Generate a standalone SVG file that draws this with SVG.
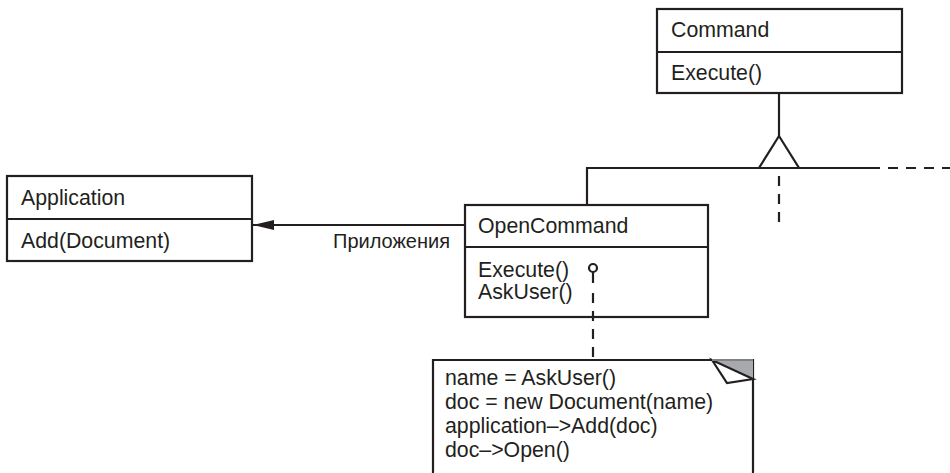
<svg xmlns="http://www.w3.org/2000/svg" width="950" height="473" viewBox="0 0 950 473">
<style>
.box{fill:#fff;stroke:#231f20;stroke-width:2.2}
.ln{fill:none;stroke:#231f20;stroke-width:2.2}
.dash{fill:none;stroke:#231f20;stroke-width:2.2;stroke-dasharray:10 8}
text{font-family:"Liberation Sans",Arial,sans-serif;font-size:21.3px;fill:#231f20}
.lbl{font-size:20px}
</style>
<defs>
<marker id="arr" markerWidth="22" markerHeight="12" refX="21" refY="6" orient="auto" markerUnits="userSpaceOnUse">
<path d="M0,1 L21,6 L0,11 Z" fill="#231f20"/>
</marker>
</defs>
<rect width="950" height="473" fill="#fff"/>
<g id="Command">
<rect class="box" x="657" y="9" width="245" height="84"/>
<line class="ln" x1="657" y1="52" x2="902" y2="52"/>
<text x="671" y="37">Command</text>
<text x="671" y="80">Execute()</text>
</g>
<g id="Application">
<rect class="box" x="7" y="176" width="245" height="85"/>
<line class="ln" x1="7" y1="219" x2="252" y2="219"/>
<text x="21" y="205">Application</text>
<text x="21" y="248">Add(Document)</text>
</g>
<g id="OpenCommand">
<rect class="box" x="465" y="205" width="243" height="112"/>
<line class="ln" x1="465" y1="247" x2="708" y2="247"/>
<text x="478" y="233">OpenCommand</text>
<text x="478" y="277">Execute()</text>
<text x="478" y="299">AskUser()</text>
</g>
<g id="note">
<polyline class="box" points="433,480 433,360 753,360 753,480"/>
<polygon points="712,360 753,360 753,379" fill="#a7a9ac"/>
<polygon points="712,360 727,383 753,379" fill="#fff" stroke="#231f20" stroke-width="2.2"/>
<line x1="712" y1="360" x2="753" y2="360" stroke="#808285" stroke-width="2"/>
<text x="445" y="385">name = AskUser()</text>
<text x="445" y="409">doc = new Document(name)</text>
<text x="445" y="433">application–&gt;Add(doc)</text>
<text x="445" y="457">doc–&gt;Open()</text>
</g>
<g id="connectors">
<line class="ln" x1="779" y1="93" x2="779" y2="136"/>
<polygon class="box" points="779,136 759,168 799,168"/>
<polyline class="ln" points="587,205 587,168 759,168"/>
<line class="ln" x1="799" y1="168" x2="880" y2="168"/>
<line class="dash" x1="888" y1="168" x2="950" y2="168"/>
<line class="dash" x1="779" y1="176" x2="779" y2="228"/>
<line class="ln" x1="465" y1="225" x2="253" y2="225" marker-end="url(#arr)"/>
<text class="lbl" x="333" y="248">Приложения</text>
<circle cx="593" cy="268" r="4" fill="#fff" stroke="#231f20" stroke-width="2.2"/>
<line class="ln" x1="593" y1="272" x2="593" y2="283"/>
<line class="dash" x1="593" y1="293" x2="593" y2="360"/>
</g>
</svg>
